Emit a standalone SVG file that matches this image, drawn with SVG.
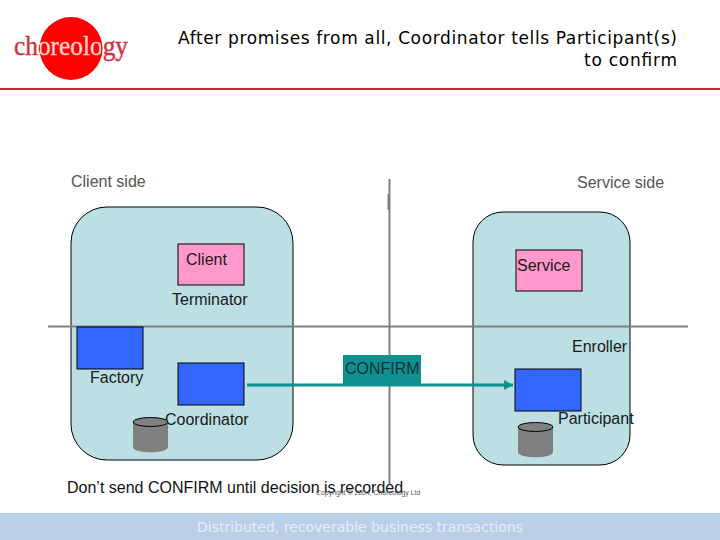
<svg xmlns="http://www.w3.org/2000/svg" width="720" height="540" viewBox="0 0 720 540">
<style>
text{font-family:"Liberation Sans",Arial,sans-serif;font-size:16px;fill:#1a1a1a}
.v{font-family:"DejaVu Sans",Verdana,sans-serif}
.side{fill:#555}
.pane{fill:#bbdfe3;stroke:#000;stroke-width:1}
.box{fill:#3366ff;stroke:#000;stroke-width:1}
.pink{fill:#ff99cc;stroke:#000;stroke-width:1}
.can{fill:#808080}
.cantop{fill:#808080;stroke:#000;stroke-width:1}
.axis{stroke:#808080;stroke-width:2;fill:none}
</style>
<defs>
<marker id="ah" markerUnits="userSpaceOnUse" markerWidth="10" markerHeight="10" refX="9" refY="5" orient="auto"><path d="M0,0L9,5L0,10z" fill="#0e9090"/></marker>
<linearGradient id="logo" gradientUnits="userSpaceOnUse" x1="0" y1="0" x2="140" y2="0">
<stop offset="0.286" stop-color="#cc3340"/><stop offset="0.286" stop-color="#ffd0d0"/><stop offset="0.725" stop-color="#ffd0d0"/><stop offset="0.725" stop-color="#cc3340"/>
</linearGradient>
</defs>
<rect width="720" height="540" fill="#fff"/>
<g id="header">
<circle cx="71" cy="48.500" r="31.500" fill="#fe0000"/>
<text x="14" y="55" style="font-family:'Liberation Serif',serif;font-size:27px;fill:url(#logo);stroke:url(#logo);stroke-width:0.400" textLength="114" lengthAdjust="spacingAndGlyphs">choreology</text>
<rect x="0" y="88" width="720" height="2" fill="#cc2229"/>
<text class="v" x="178" y="44" style="font-size:17px;fill:#000" textLength="499">After promises from all, Coordinator tells Participant(s)</text>
<text class="v" x="584" y="66" style="font-size:17px;fill:#000" textLength="93">to confirm</text>
</g>
<g id="client-pane"><rect class="pane" x="71" y="207" width="222" height="253" rx="36"/></g>
<g id="service-pane"><rect class="pane" x="473" y="212" width="157" height="253" rx="30"/></g>
<g id="connectors">
<path class="axis" d="M389.500 179V484"/>
<path class="axis" d="M388.500 194V210" stroke-width="2.500"/>
<path class="axis" d="M48 326.500H688"/>
</g>
<g id="client-side"><text class="side" x="71" y="187">Client side</text></g>
<g id="service-side"><text class="side" x="577" y="188">Service side</text></g>
<g id="client"><rect class="pink" x="178" y="244" width="66" height="41"/><text x="186" y="265">Client</text></g>
<g id="service"><rect class="pink" x="516" y="250" width="66" height="41"/><text x="517" y="271">Service</text></g>
<g id="terminator"><text x="172" y="305">Terminator</text></g>
<g id="enroller"><text x="572" y="352">Enroller</text></g>
<g id="factory"><rect class="box" x="77" y="327" width="66" height="42"/><text x="90" y="383">Factory</text></g>
<g id="coordinator"><rect class="box" x="178" y="363" width="66" height="42"/><text x="165" y="425">Coordinator</text></g>
<g id="participant"><rect class="box" x="515" y="369" width="66" height="42"/><text x="558" y="424">Participant</text></g>
<g id="confirm-label"><rect x="343" y="355" width="78" height="30" fill="#0e9090"/><text x="345" y="374" style="fill:#10303a">CONFIRM</text></g>
<g id="connector-confirm"><path d="M247 385H513" stroke="#0e9090" stroke-width="3" fill="none" marker-end="url(#ah)"/></g>
<g id="coordinator-store">
<path class="can" d="M133 422V447C133 454 168 454 168 447V422z"/>
<ellipse class="cantop" cx="150.500" cy="422" rx="17.500" ry="4.500"/>
</g>
<g id="participant-store">
<path class="can" d="M518 427V452C518 459 553 459 553 452V427z"/>
<ellipse class="cantop" cx="535.500" cy="427" rx="17.500" ry="4.500"/>
</g>
<g id="note"><text x="67" y="493" style="fill:#111">Don’t send CONFIRM until decision is recorded</text></g>
<g id="copyright"><text x="316" y="495" style="font-size:6.900px;fill:#555">Copyright © 2004, Choreology Ltd</text></g>
<g id="footer"><rect x="0" y="513" width="720" height="27" fill="#bccfe8"/><text class="v" x="197" y="532" style="fill:#e6edf6;font-size:14px">Distributed, recoverable business transactions</text></g>
</svg>
